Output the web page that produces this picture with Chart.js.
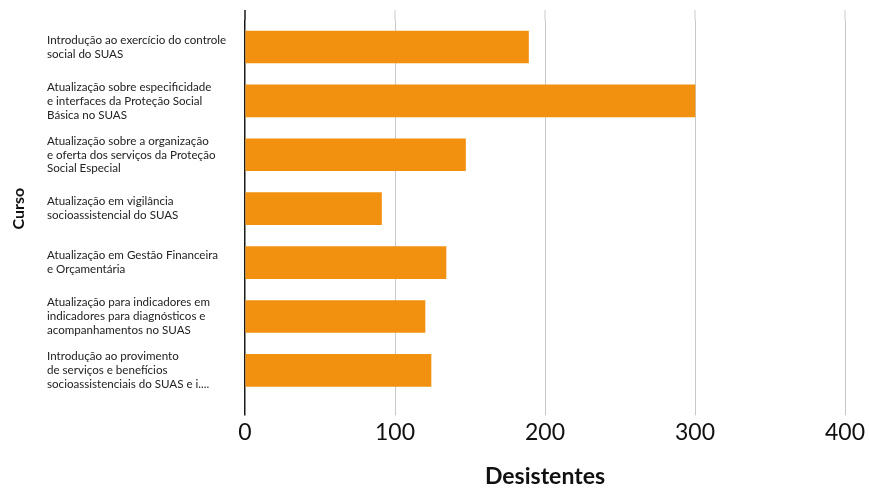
<!DOCTYPE html>
<html>
<head>
<meta charset="utf-8">
<script src="https://cdn.jsdelivr.net/npm/chart.js@4.4.1/dist/chart.umd.min.js"></script>
<style>
  html, body { margin: 0; padding: 0; background: #ffffff; }
  #wrap { width: 869px; height: 488px; position: relative; }
</style>
</head>
<body>
<div id="wrap"><canvas id="chart"></canvas></div>
<script>
// courses, one array per label line
const cursos = [
  ['Introdução ao exercício do controle', 'social do SUAS'],
  ['Atualização sobre especificidade', 'e interfaces da Proteção Social', 'Básica no SUAS'],
  ['Atualização sobre a organização', 'e oferta dos serviços da Proteção', 'Social Especial'],
  ['Atualização em vigilância', 'socioassistencial do SUAS'],
  ['Atualização em Gestão Financeira', 'e Orçamentária'],
  ['Atualização para indicadores em', 'indicadores para diagnósticos e', 'acompanhamentos no SUAS'],
  ['Introdução ao provimento', 'de serviços e benefícios', 'socioassistenciais do SUAS e i....']
];
const desistentes = [189, 300, 147, 91, 134, 120, 124];
const xTicks = [0, 100, 200, 300, 400];

const FONT = 'Lato, "Open Sans", sans-serif';
const gridColor = '#c9c9c9';
const zeroColor = '#1a1a1a';

// lets the vertical grid lines run a little above the plot area
const gridTop = {
  id: 'gridTop',
  beforeDatasetsDraw(chart) {
    const {ctx, chartArea} = chart;
    const x = chart.scales.x;
    ctx.save();
    x.ticks.forEach((t) => {
      const px = x.getPixelForValue(t.value);
      ctx.beginPath();
      ctx.strokeStyle = t.value === 0 ? zeroColor : gridColor;
      ctx.lineWidth = t.value === 0 ? 1.5 : 1;
      ctx.moveTo(px, chartArea.top - 10);
      ctx.lineTo(px, chartArea.top);
      ctx.stroke();
    });
    ctx.restore();
  }
};

new Chart(document.getElementById('chart'), {
  type: 'bar',
  data: {
    labels: cursos,
    datasets: [{
      data: desistentes,
      backgroundColor: '#f2910f',
      borderWidth: 0,
      barThickness: 32
    }]
  },
  plugins: [gridTop],
  options: {
    indexAxis: 'y',
    responsive: true,
    maintainAspectRatio: false,
    animation: false,
    layout: { padding: { top: 20, left: 47, right: 24, bottom: 0 } },
    plugins: {
      legend: { display: false },
      tooltip: { enabled: false }
    },
    scales: {
      x: {
        min: 0,
        max: 400,
        afterBuildTicks: (scale) => {
          scale.ticks = xTicks.map((v) => ({ value: v }));
        },
        border: { display: false },
        grid: {
          color: (c) => (c.tick && c.tick.value === 0 ? zeroColor : gridColor),
          lineWidth: (c) => (c.tick && c.tick.value === 0 ? 1.5 : 1),
          tickLength: 18
        },
        ticks: {
          color: '#111111',
          padding: 3,
          font: { family: FONT, size: 23 }
        },
        title: {
          display: true,
          text: 'Desistentes',
          color: '#111111',
          font: { family: FONT, size: 23, weight: 'bold', lineHeight: 1 },
          padding: { top: 16, bottom: 0 }
        }
      },
      y: {
        border: { display: false },
        grid: { display: false },
        afterFit: (scale) => {
          // fixed label column; the tall labels must not push the plot area in
          scale.width = 198;
          scale.paddingTop = 0;
          scale.paddingBottom = 0;
        },
        ticks: {
          crossAlign: 'far',
          color: '#222222',
          font: { family: FONT, size: 11.6, lineHeight: 1.2 }
        },
        title: {
          display: true,
          text: 'Curso',
          color: '#111111',
          font: { family: FONT, size: 16, weight: 'bold' },
          padding: { top: -38, bottom: 0 }
        }
      }
    }
  }
});
</script>
</body>
</html>
